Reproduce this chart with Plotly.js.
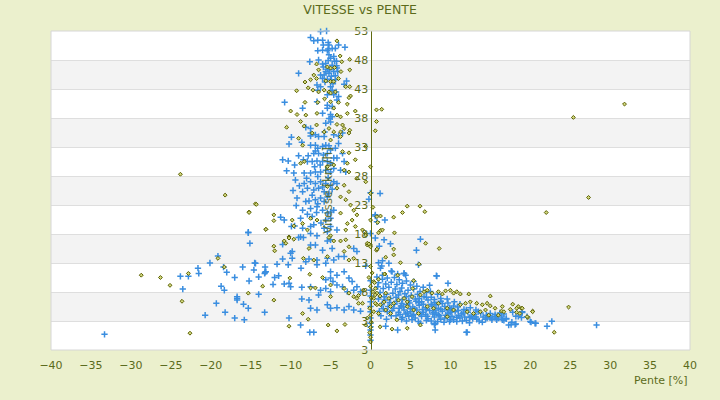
<!DOCTYPE html>
<html>
<head>
<meta charset="utf-8">
<script src="https://cdn.plot.ly/plotly-3.0.1.min.js"></script>
<style>html,body{margin:0;padding:0;background:#ebf0cd;}#chart{width:720px;height:400px;}</style>
</head>
<body>
<div id="chart"></div>
<script>
// ---------- DATA ----------
var chartTitle = "VITESSE vs PENTE";
var xTitle = "Pente [%]";
var yTitle = "Vitesse [km/h]";
var yTickVals = [-2, 3, 8, 13, 18, 23, 28, 33, 38, 43, 48, 53];
var yTickText = ["3", "3", "8", "13", "18", "23", "28", "33", "38", "43", "48", "53"];
var xTickVals = [-40, -35, -30, -25, -20, -15, -10, -5, 0, 5, 10, 15, 20, 25, 30, 35, 40];

// series 1 (blue crosses): [pente, vitesse]
var serie1 = [
[-6.25,52.9],[-5.5,53],[-7.5,51.9],[-7.1,51.3],[-6.6,51.4],[-6.0,51.4],[-5.3,51.0],[-5.9,50.6],[-5.2,50.6],[-6.6,49.6],[-6.0,49.7],[-5.3,49.9],[-4.8,50.0],[-4.4,50.0],[-4.0,50.6],[-3.2,50.2],[-5.4,49.6],
[-5.2,48.9],[-5.0,48.3],[-6.5,48.0],[-7.6,47.7],[-6.0,47.3],[-5.6,47.4],[-4.5,47.8],[-4.25,47.8],[-4.8,47.1],[-4.25,47.0],[-5.4,46.4],[-5.1,46.3],[-4.2,46.6],[-9.0,45.7],[-6.25,45.4],[-5.8,45.4],[-5.2,45.7],[-4.6,46.0],[-4.1,46.0],[-6.0,44.8],[-5.4,44.7],[-5.0,44.6],[-4.4,44.6],[-6.7,43.7],[-6.25,43.4],[-5.0,43.4],[-4.8,42.8],[-4.3,42.5],[-3.3,43.8],[-3.0,44.4],[-6.6,42.8],[-5.4,42.0],[-4.6,42.0],[-4.0,41.7],[-4.2,41.1],[-10.75,40.7],[-8.5,39.7],[-6.7,40.8],[-5.4,40.2],[-4.8,40.0],[-5.4,39.7],[-6.0,38.8],[-5.0,38.6],[-4.8,38.2],[-5.2,37.9],[-5.6,37.1],[-5.0,37.3],[-7.5,36.2],[-5.75,35.6],[-7.5,35.4],[-8.1,36.4],
[-5.6,46.0],[-4.9,45.2],[-5.7,44.2],[-4.7,43.9],[-5.3,47.9],[-4.6,48.6],[-5.9,46.8],[-4.4,45.3],
[-9.9,34.7],[-7.5,34.9],[-6.9,35.1],[-6.5,34.8],[-5.8,34.8],[-4.6,35.1],[-4.0,34.9],[-3.5,35.4],[-7.5,33.3],[-6.9,33.3],[-6.6,32.8],[-6.0,33.1],[-5.6,33.3],[-5.2,33.2],[-4.0,33.6],[-4.4,32.8],[-5.0,32.5],[-5.4,31.9],[-6.5,31.9],[-7.1,31.9],[-11.0,30.8],[-10.3,30.6],[-9.5,29.9],[-8.4,30.8],[-7.9,30.5],[-7.3,30.5],[-6.7,30.6],[-6.0,30.5],[-5.4,30.5],[-5.0,30.2],[-4.6,31.1],[-4.2,31.1],[-3.5,31.9],[-3.3,30.5],[-9.6,28.5],[-9.4,27.3],[-8.3,28.5],[-7.5,28.5],[-6.9,28.7],[-6.25,28.7],[-5.6,29.0],[-5.0,28.7],[-4.6,29.3],[-3.75,29.0],[-3.1,28.7],[-8.3,26.7],[-7.5,27.0],[-6.9,26.7],[-6.25,27.0],[-5.6,26.7],[-5.0,26.4],[-4.6,27.0],[-4.2,26.7],[-8.5,25.3],[-7.9,25.9],[-7.1,25.6],[-6.5,25.9],[-5.8,25.3],[-5.2,25.0],[-9.2,24.2],[-8.1,23.6],[-7.7,23.7],[-6.9,23.9],[-6.25,24.2],[-5.8,23.6],[-5.4,24.4],[-8.5,22.1],[-7.5,22.4],[-6.7,22.7],[-6.0,22.1],[-5.4,21.6],[-5.0,21.8],[-4.6,22.1],[-8.75,20.7],[-7.3,21.0],[-6.75,21.7],[-5.6,20.4],[-5.0,20.7],[-9.9,19.3],[-9.5,19.4],[-8.5,19.0],[-7.5,19.3],[-7.1,19.6],[-5.8,19.0],[-5.0,19.3],[-15.3,18.2],[-11.25,20.9],[-10.8,20.4],[-8.75,17.5],[-7.5,18.1],[-6.7,17.7],[-5.4,18.4],[-4.2,18.7],[0,25.1],[0.6,21.1],[0.8,20.1],[0,18.1],
[-7.0,29.6],[-6.3,29.9],[-5.9,31.6],[-6.9,32.3],[-7.8,31.5],[-8.0,27.6],[-6.6,27.9],[-5.3,27.7],[-4.8,25.7],[-6.0,26.1],[-8.9,26.3],[-7.3,24.7],[-6.6,23.2],[-9.3,22.9],[-7.9,21.4],[-6.2,19.9],[-9.0,31.5],[-8.6,33.8],[-10.2,33.5],[-9.7,25.5],[-10.5,28.9],
[-15.1,16.4],[-11.0,16.2],[-9.8,15.0],[-10.0,14.7],[-9.0,17.4],[-8.4,17.4],[-7.5,16.1],[-6.9,16.1],[-6.0,15.2],[-5.4,16.8],[-5.0,17.0],[-4.8,15.5],[-4.0,14.1],[-3.3,14.1],[-11.0,13.7],[-9.8,13.8],[-7.7,13.7],[-6.7,13.5],[-5.4,13.8],[-4.6,13.5],[-2.1,15.5],[-1.7,15.0],[-14.4,12.95],[-16.0,12.3],[-14.6,11.8],[-13.2,12.3],[-13.1,11.5],[-11.7,12.8],[-10.3,12.7],[-8.7,12.1],[-8.1,13.2],[-6.7,12.7],[-5.6,12.95],[-5.0,11.5],[-4.2,10.9],[-3.3,11.5],[-17.0,10.5],[-15.2,9.9],[-14.0,10.6],[-13.25,11.2],[-12.0,10.5],[-11.5,10.8],[-10.8,9.4],[-10.2,9.5],[-10.0,8.9],[-12.2,9.3],[-8.6,8.8],[-7.5,8.9],[-6.25,8.3],[-5.6,10.1],[-5.0,10.4],[-4.7,9.8],[-4.2,9.2],[-3.5,8.9],[-2.7,10.4],[-2.3,9.8],[-1.7,8.9],[-6.5,7.5],[-5.6,8.6],[-5.0,8.05],[-2.9,8.05],[-2.1,8.3],[-1.25,8.05],[-16.7,7.2],[-15.9,5.9],[-15.3,5.2],[-14.0,7.6],[-8.6,6.8],[-7.7,6.6],[-7.5,5.2],[-6.7,4.9],[-5.4,5.8],[-5.0,5.2],[-4.2,5.3],[-3.3,4.9],[-2.7,5.5],[-2.1,4.9],[-17.0,3.5],[-15.8,3.2],[-13.25,4.5],[-10.2,3.5],[-8.75,2.3],[-7.6,1.05],[-7.1,1.05],[-1.25,4.7],
[-33.3,0.7],[-19.1,14.2],[-20.1,13.0],[-21.6,12.1],[-21.5,11.2],[-23.8,10.7],[-22.8,10.7],[-18.4,12.3],[-18.0,11.4],[-23.5,8.5],[-18.7,9.0],[-18.3,8.3],[-16.7,6.9],[-16.7,6.6],[-19.3,6.05],[-20.7,4.0],[-18.2,4.5],[-15.3,18.3],[-14.5,13.0],[-13.2,11.4],
[1.2,25.0],[-0.2,24.0],[0.6,21.3],[1.8,20.4],[0.6,17.3],[1.7,17.0],[2.5,16.3],[1.1,15.9],[6.25,17.1],[5.75,15.2],[6.0,12.7],[1.0,13.05],[1.5,13.4],[1.4,12.5],[1.25,12.1],[2.3,12.95],[2.6,11.6],[4.2,11.2],[4.4,10.9],[8.25,10.8],[9.7,9.5],[7.4,9.15],[-0.6,12.5],
[0,9.95],[0,8.3],[0,7.3],[0,6.3],[0,5.5],[0,4.6],[0,3.5],[0,2.6],[0,2.0],[0,1.45],[0,0.6],[0,-0.3],
[0.8,10.6],[1.5,10.2],[2.1,10.4],[3.0,10.5],[3.6,10.1],[4.5,9.9],[1.0,9.6],[1.9,9.4],[2.6,9.7],[3.3,9.3],[4.0,9.5],[5.0,9.2],[5.8,9.0],[6.6,8.8],[7.5,8.1],[8.4,7.6],[0.9,8.9],[1.6,8.6],[2.3,8.8],[3.1,8.5],[3.9,8.7],[4.7,8.3],[5.4,8.5],[6.2,8.1],[7.0,7.9],[1.2,7.9],[2.0,7.6],[2.8,7.8],[3.5,7.5],[4.3,7.7],[5.1,7.4],[5.9,7.6],[6.7,7.2],[7.6,7.1],[8.8,6.9],[9.6,6.8],[1.0,6.8],[1.8,6.6],[2.5,6.9],[3.3,6.4],[4.0,6.7],[4.8,6.5],[5.6,6.8],[6.4,6.3],[7.2,6.6],[8.0,6.2],[8.8,6.4],[9.7,6.1],[10.5,6.3],[11.2,5.9],[1.4,5.8],[2.2,5.5],[3.0,5.9],[3.8,5.6],[4.5,5.8],[5.3,5.4],[6.1,5.7],[6.9,5.3],[7.7,5.6],[8.5,5.2],[9.3,5.5],[10.1,5.1],[10.9,5.4],[11.7,5.0],[12.5,5.3],[13.2,4.9],[2.7,4.8],[3.5,4.5],[4.2,4.9],[5.0,4.6],[5.8,4.9],[6.6,4.5],[7.4,4.8],[8.2,4.4],[9.0,4.7],[9.8,4.3],[10.6,4.6],[11.4,4.2],[12.2,4.5],[13.0,4.1],[13.8,4.4],[14.5,4.0],[3.2,3.9],[4.0,3.6],[4.8,3.8],[5.6,3.5],[6.4,3.8],[7.2,3.4],[8.0,3.7],[8.8,3.3],[9.6,3.6],[10.4,3.2],[11.2,3.5],[12.0,3.1],[12.8,3.4],[13.6,3.0],[14.4,3.3],[15.2,3.5],[4.5,3.0],[6.0,2.9],[7.6,3.0],[9.2,2.8],[10.8,2.9],[12.4,2.7],[14.0,2.8],
[4.4,4.2],[5.4,4.1],[6.9,4.1],[7.8,4.2],[8.6,3.9],[9.4,4.0],[10.2,3.8],[11.0,3.9],[11.8,3.7],[12.6,3.8],[7.0,5.0],[8.1,4.9],[9.6,4.9],[10.4,5.6],[6.0,6.2],[7.6,5.9],[5.0,5.1],[3.6,5.2],[2.4,6.2],[3.2,7.1],
[3.7,4.1],[4.6,4.4],[5.2,3.9],[6.2,4.2],[7.1,3.8],[7.9,4.5],[8.5,4.1],[9.3,3.5],[10.0,4.5],[10.8,3.6],[11.6,4.4],[12.4,3.6],[13.2,3.7],[5.5,5.1],[6.5,5.0],[8.8,5.0],[9.9,5.3],[11.0,4.8],[12.0,4.9],[13.5,4.6],[4.1,5.4],[6.6,5.9],[8.2,5.8],[9.0,6.0],[4.9,6.1],[3.9,6.0],[5.7,6.4],[7.0,7.1],[8.0,6.7],[2.9,5.2],[2.1,4.6],[1.6,5.1],[1.1,4.7],[1.7,7.2],[3.7,8.1],[4.5,7.2],[6.1,6.9],[14.1,3.7],[15.6,3.8],[16.0,3.5],[13.3,3.3],[11.5,3.0],[9.9,2.9],[8.4,2.9],[7.0,3.1],[5.2,3.2],[3.9,3.3],[2.6,3.9],[2.0,3.3],[1.3,3.9],
[1.5,10.9],[2.7,11.5],[4.2,11.2],[3.4,11.1],[8.3,10.75],[5.4,9.8],[1.9,2.1],[3.4,1.45],[6.25,2.6],[8.1,1.45],[12.1,1.05],[8.1,2.6],[10.0,3.2],
[14.6,3.5],[15.2,3.2],[15.8,3.2],[16.5,3.2],[17.0,3.35],[17.3,2.3],[18.2,2.5],[19.0,4.45],[19.6,3.75],[20.0,2.9],[20.6,2.6],[22.1,2.1],[15.0,4.3],[15.6,4.1],[16.2,4.4],
[28.3,2.3],[40.7,0.7],[22.7,2.95],[20.7,2.6],[20.1,2.8],[18.1,2.4],[17.6,2.4],[17.7,2.8],[18.9,3.6],[18.5,3.8],[18.2,3.8],[17.8,4.5],[17.0,3.45],[16.7,3.1],[16.7,4.2],[16.4,3.85],[15.75,3.35],[15.0,3.6],[19.0,4.6],[12.0,1.05],[8.0,2.4]
];

// series 2 (olive diamonds): [pente, vitesse]
var serie2 = [
[-4.2,51.3],[-3.8,48.7],[-2.6,48.1],[-3.6,47.7],[-6.75,47.3],[-6.5,46.3],[-5.4,46.8],[-5.0,46.6],[-4.5,46.7],[-7.1,45.4],[-6.75,44.8],[-7.5,44.6],[-5.6,44.4],[-5.0,44.3],[-4.6,44.3],[-3.7,46.0],[-2.6,46.3],[-4.0,44.8],[-8.2,44.2],[-7.8,43.2],[-3.1,43.4],[-2.6,43.4],[-7.2,42.8],[-6.5,42.5],[-5.8,42.8],[-5.2,42.5],[-5.0,42.3],[-4.4,42.5],[-9.25,42.7],[-2.5,41.8],[-2.7,41.5],[-5.75,41.3],[-5.0,40.8],[-4.0,40.7],[-2.9,40.4],[-8.2,40.7],[-6.6,40.7],[-4.6,39.7],[-10.0,39.2],[-9.2,38.6],[-8.1,38.5],[-6.7,38.8],[-2.9,38.8],[-1.9,39.2],[-4.2,38.5],[-3.75,38.2],[-10.5,36.4],[-8.3,36.6],[-6.75,36.8],[-4.2,36.9],[-3.5,36.8],[-3.3,36.2],[-3.75,35.6],[-2.6,35.9],[-4.6,35.6],[-5.2,36.2],[-8.75,37.4],[0.75,39.4],[1.4,39.5],[0.75,37.4],[0.6,35.8],
[-9.0,34.5],[-8.5,33.3],[-7.3,35.4],[-5.8,35.6],[-5.0,34.2],[-3.75,34.8],[-2.7,35.4],[-3.5,32.2],[-2.7,32.0],[-0.6,33.1],[-1.9,30.8],[-8.75,30.2],[-8.3,30.5],[-5.4,29.6],[-4.6,29.9],[-3.3,29.0],[-2.7,28.7],[-2.9,30.2],[-1.7,27.6],[-0.6,27.0],[-5.4,26.2],[-4.2,25.9],[-3.3,26.4],[-2.7,25.3],[-3.75,24.4],[-3.1,23.9],[-2.5,23.0],[-2.1,22.1],[-1.7,21.3],[-2.3,20.4],[-2.9,19.8],[-1.9,19.3],[-1.0,18.7],[-0.6,18.1],[-14.4,23.2],[-15.2,21.8],[-12.1,21.3],[-12.1,20.3],[-9.8,20.4],[-9.6,19.4],[-13.1,18.8],[-8.5,19.8],[-7.5,20.7],[-6.7,20.4],[-7.9,18.7],[-3.75,21.6],[-3.1,18.7],[-5.0,17.7],[-10.2,17.5],
[-12.1,15.9],[-12.0,15.1],[-10.8,16.8],[-10.2,17.3],[-9.6,17.1],[-10.6,16.4],[-7.7,15.5],[-7.1,13.5],[-8.4,13.8],[-5.2,17.4],[-4.6,16.8],[-3.75,16.8],[-3.1,17.0],[-2.7,15.8],[-3.3,15.0],[-2.7,13.5],[-2.1,13.8],[-5.4,14.1],[-10.1,10.4],[-13.5,9.0],[-15.3,7.8],[-12.1,6.6],[-7.6,11.05],[-6.0,10.5],[-7.5,8.7],[-6.9,8.7],[-5.0,9.2],[-3.3,8.6],[-2.7,7.8],[-2.1,7.2],[-1.7,6.9],[-1.5,6.05],[-0.4,16.1],[0,16.1],[0.75,15.2],[0.4,9.8],[0.6,8.6],[0.8,7.8],[0.4,6.9],[0.8,5.8],[-5.0,7.2],[-8.5,4.3],[-7.8,3.3],[-10.2,2.1],[-5.3,2.3],[-3.2,2.4],[-4.2,1.3],[-1.5,7.4],[-1.0,6.05],
[-23.8,28.3],[-18.2,24.7],[-28.7,10.9],[-26.3,10.5],[-25.1,9.15],[-22.8,11.2],[-23.6,6.4],[-22.6,0.9],[-19.1,13.8],[-18.3,12.3],[-14.3,23.1],[-15.2,21.7],[-13.1,18.8],
[31.8,40.4],[25.4,38.1],[27.3,24.3],[22.0,21.7],[24.8,5.4],[23.0,1.05],[42.7,0.9],[17.8,5.9],[18.5,5.5],[18.9,5.2],[17.5,5.0],[18.3,4.5],[18.7,4.3],[19.7,3.6],[20.3,4.7],[16.5,5.5],[16.4,4.7],
[0.3,22.6],[4.6,22.8],[6.2,22.8],[4.0,21.7],[6.8,21.85],[0.8,21.0],[1.25,21.1],[0.9,20.0],[2.9,20.9],[1.25,18.6],[1.5,18.7],[1.0,18.2],[3.0,18.2],[6.9,16.4],[8.6,15.5],[2.9,15.4],[0.8,15.4],[2.9,14.4],[1.9,14.0],[3.75,13.05],[6.1,12.8],[1.8,11.1],[3.4,10.9],[5.4,9.95],[-0.6,17.8],[-0.4,16.4],[-0.2,16.3],
[0.5,9.6],[1.0,10.2],[1.75,11.1],[0.3,8.05],[0.6,7.5],[1.2,7.3],[1.9,7.8],[2.3,6.9],[1.7,6.3],[1.25,5.8],[0.6,6.05],[0.4,4.6],[1.0,4.3],[1.9,4.9],[2.5,5.5],[2.9,6.05],[3.5,6.6],[4.2,6.9],[4.6,6.3],[5.2,7.2],[5.3,8.6],[6.25,7.5],[6.7,8.05],[7.1,8.3],[7.7,7.8],[8.5,8.05],[9.0,7.65],[9.4,8.2],[10.0,8.3],[10.4,7.8],[10.8,8.05],[11.25,7.65],[12.3,7.65],[12.5,6.3],[11.9,6.05],[13.3,6.05],[14.0,5.8],[14.6,6.05],[15.0,7.3],[14.4,4.9],[15.0,5.6],[15.6,5.2],[16.7,4.6],[18.3,5.2],[19.0,5.2],[19.6,3.75],[20.3,4.6],[2.5,4.3],[3.3,3.2],[4.6,1.75],[6.25,2.3],[2.7,1.6],[1.2,2.0],[4.6,5.5],[5.4,4.9],[6.0,4.3],[7.1,5.5],[7.9,5.2],[8.5,6.05],[9.6,5.2],[10.4,4.9],[11.25,5.8],[9.6,3.75],[12.1,4.6],[12.9,4.3],[13.75,4.6],[14.8,4.0],[16.0,4.0],
[0,12.4],[0.2,11.3],[-0.2,10.5],[0,9.0],[0.1,7.0],[-0.1,5.2],[0,4.0],[0.1,2.8],[0,1.9],[-0.1,1.0],[0,0.2],[0,-0.6],[-0.4,3.5],[-0.6,2.3],[0,29.6],[0,25.0],[0,20.4],[0,15.8],[-0.9,8.3]
];

// ---------- CHART ----------
var olive = "#5b6b1b";
function col(arr, i) { return arr.map(function (p) { return p[i]; }); }

var bands = [];
for (var i = 1; i < yTickVals.length - 1; i += 2) {
  bands.push({type: "rect", xref: "paper", yref: "y", x0: 0, x1: 1,
    y0: yTickVals[i], y1: yTickVals[i + 1], fillcolor: "#f3f3f3",
    line: {width: 0}, layer: "below"});
}
bands.push({type: "rect", xref: "paper", yref: "paper", x0: 0, x1: 1, y0: 0, y1: 1,
  line: {color: "#d6d6d6", width: 1}, fillcolor: "rgba(0,0,0,0)", layer: "above"});

var traces = [
  {x: col(serie1, 0), y: col(serie1, 1), type: "scatter", mode: "markers", name: "Série 1",
   cliponaxis: false,
   marker: {symbol: "cross-thin", size: 4.5, color: "#3a8ee0", line: {color: "#3a8ee0", width: 1.5}}},
  {x: col(serie2, 0), y: col(serie2, 1), type: "scatter", mode: "markers", name: "Série 2",
   cliponaxis: false,
   marker: {symbol: "diamond", size: 3, color: "#d2d77e", line: {color: "#5a6000", width: 1}}}
];

var layout = {
  width: 720, height: 400,
  paper_bgcolor: "#ebf0cd", plot_bgcolor: "#ffffff",
  font: {family: "DejaVu Sans, sans-serif", size: 11, color: olive},
  margin: {l: 51, r: 30, t: 31, b: 50},
  showlegend: false,
  title: {text: chartTitle, font: {size: 12.5, color: olive}, x: 0.5, xanchor: "center",
          y: 0.975, yanchor: "middle"},
  xaxis: {range: [-40, 40], tickvals: xTickVals, showgrid: false, zeroline: false,
          ticks: "", showline: false, ticklabelstandoff: 7, tickfont: {size: 11, color: olive}},
  yaxis: {range: [-2, 53], tickvals: yTickVals, ticktext: yTickText,
          anchor: "free", position: 0.5, showline: true, linecolor: "#5f6a10", linewidth: 1,
          showgrid: true, gridcolor: "#dedede", gridwidth: 1, zeroline: false, ticks: "",
          tickfont: {size: 11, color: olive},
          title: {text: yTitle, standoff: 18, font: {size: 12, color: "rgba(85,100,25,0.85)"}}},
  shapes: bands,
  annotations: [
    {text: xTitle, xref: "paper", yref: "paper", x: 1, y: -0.097,
     xanchor: "right", yanchor: "middle", showarrow: false,
     font: {size: 11, color: olive}}
  ]
};

Plotly.newPlot("chart", traces, layout, {staticPlot: true, displayModeBar: false});
</script>
</body>
</html>
